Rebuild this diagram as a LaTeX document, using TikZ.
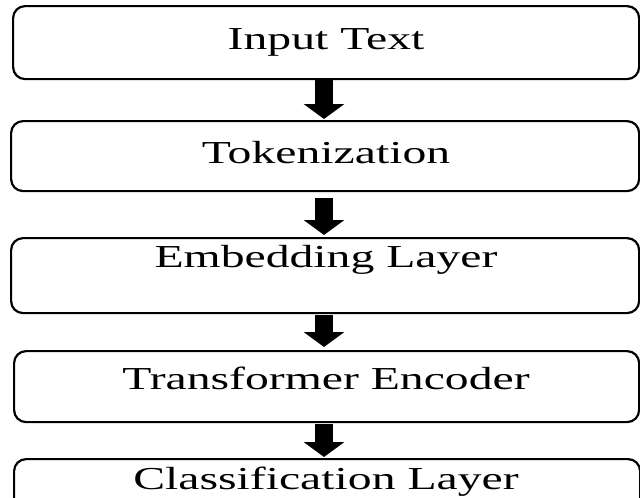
\documentclass[tikz,border=0pt]{standalone}
\usepackage{fontspec}
\setmainfont{Liberation Serif}
\usetikzlibrary{arrows.meta}
\begin{document}
\begin{tikzpicture}[x=1pt,y=-1pt,
  box/.style={draw=black, line width=2.2pt, rounded corners=12pt, anchor=north west, inner sep=0pt},
  lbl/.style={anchor=base, inner sep=0pt, font=\fontsize{32}{38}\selectfont},
  blockarrow/.style={line width=18pt, -{Triangle[width=40pt,length=15pt]}}]
\clip (0,0) rectangle (640,498);
\fill[white] (0,0) rectangle (640,498);
\node[box, minimum width=626pt, minimum height=73pt] (b1) at (12,5) {};
\node[box, minimum width=628pt, minimum height=70pt] (b2) at (10,120) {};
\node[box, minimum width=628pt, minimum height=75pt] (b3) at (10,237) {};
\node[box, minimum width=625pt, minimum height=71pt] (b4) at (13,350) {};
\node[box, minimum width=626pt, minimum height=70pt] (b5) at (13,458) {};
\node[lbl] (t1) at (326,49) {\scalebox{1.49}[1]{Input Text}};
\node[lbl] (t2) at (326,163) {\scalebox{1.49}[1]{Tokenization}};
\node[lbl] (t3) at (326,267) {\scalebox{1.49}[1]{Embedding Layer}};
\node[lbl] (t4) at (326,389) {\scalebox{1.49}[1]{Transformer Encoder}};
\node[lbl] (t5) at (326,489) {\scalebox{1.49}[1]{Classification Layer}};
\draw[blockarrow, shorten >=1pt] (b1.south -| 324,0) -- (b2.north -| 324,0);
\draw[blockarrow, shorten <=6pt, shorten >=2pt] (b2.south -| 324,0) -- (b3.north -| 324,0);
\draw[blockarrow, shorten <=1pt, shorten >=3pt] (b3.south -| 324,0) -- (b4.north -| 324,0);
\draw[blockarrow, shorten <=1pt, shorten >=1pt] (b4.south -| 324,0) -- (b5.north -| 324,0);
\end{tikzpicture}
\end{document}
